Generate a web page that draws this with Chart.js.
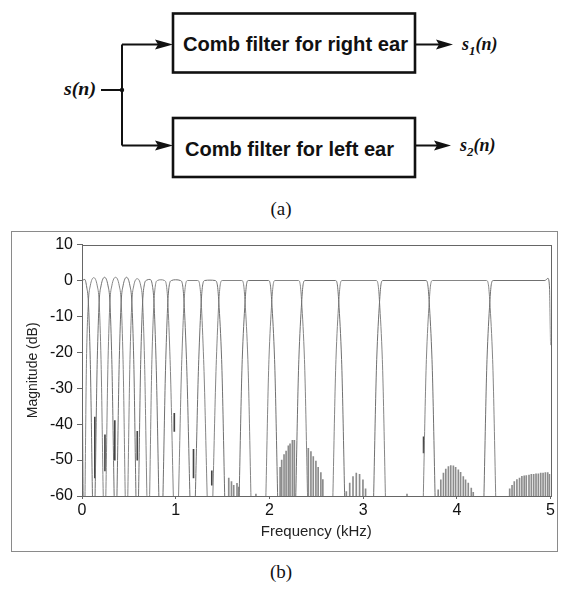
<!DOCTYPE html>
<html lang="en">
<head>
    <meta charset="UTF-8">
    <title>Comb filters</title>
    <script src="https://cdn.jsdelivr.net/npm/chart.js"></script>
    <style>
        body { margin: 0; background: #fff; width: 562px; height: 589px; position: relative; overflow: hidden; }
        #diagram { position: absolute; left: 0; top: 0; }
        #frame { position: absolute; left: 11px; top: 231px; width: 545px; height: 319px; border: 1px solid #8a8a8a; }
        #chart { position: absolute; left: 11px; top: 231px; }
        .cap { position: absolute; width: 562px; text-align: center; font-family: "Liberation Serif", serif; font-size: 19px; color: #111; }
    </style>
</head>
<body>
    <svg id="diagram" width="562" height="200" xmlns="http://www.w3.org/2000/svg">
        <g stroke="#111" fill="none">
            <rect x="173" y="13.5" width="242" height="59" stroke-width="2.6"/>
            <rect x="173" y="118" width="242" height="59" stroke-width="2.6"/>
            <line x1="101" y1="90" x2="122" y2="90" stroke-width="2"/>
            <line x1="122" y1="44.5" x2="122" y2="145.5" stroke-width="2"/>
            <line x1="122" y1="44.5" x2="158" y2="44.5" stroke-width="2"/>
            <line x1="122" y1="145.5" x2="158" y2="145.5" stroke-width="2"/>
            <line x1="415" y1="44.5" x2="440" y2="44.5" stroke-width="2"/>
            <line x1="415" y1="145.5" x2="438" y2="145.5" stroke-width="2"/>
        </g>
        <g fill="#111">
            <circle cx="122" cy="90" r="2.2"/>
            <polygon points="155,39.5 173,44.5 155,49.5 158,44.5"/>
            <polygon points="155,140.5 173,145.5 155,150.5 158,145.5"/>
            <polygon points="436,39.5 453,44.5 436,49.5 439,44.5"/>
            <polygon points="434,140.5 451,145.5 434,150.5 437,145.5"/>
        </g>
        <g font-family="Liberation Sans, Arial, sans-serif" font-weight="bold" font-size="21" fill="#111">
            <text x="183" y="50.5" textLength="225" lengthAdjust="spacingAndGlyphs">Comb filter for right ear</text>
            <text x="185" y="155.5" textLength="209" lengthAdjust="spacingAndGlyphs">Comb filter for left ear</text>
        </g>
        <g font-family="Liberation Serif, serif" font-weight="bold" font-style="italic" font-size="18" fill="#111">
            <text x="64" y="95" textLength="32" lengthAdjust="spacingAndGlyphs">s(n)</text>
            <text x="462" y="50">s<tspan font-size="13" dy="5">1</tspan><tspan dy="-5">(n)</tspan></text>
            <text x="460" y="151">s<tspan font-size="13" dy="5">2</tspan><tspan dy="-5">(n)</tspan></text>
        </g>
    </svg>
    <div class="cap" style="top: 198px;">(a)</div>

    <div id="frame"></div>
    <canvas id="chart" width="546" height="320"></canvas>

    <div class="cap" style="top: 561px;">(b)</div>

    <script>
        // magnitude response of the comb filter for the right ear (kHz, dB)
        const rightFreq = [0, 0.03, 0.05, 0.068, 0.088, 0.1255, 0.163, 0.183, 0.203, 0.2405, 0.278, 0.298, 0.318, 0.358,
            0.398, 0.418, 0.438, 0.475, 0.512, 0.532, 0.552, 0.5895, 0.627, 0.647, 0.665, 0.69, 0.725, 0.75, 0.768, 0.79,
            0.842, 0.894, 0.916, 0.932, 0.955, 1.0, 1.05, 1.073, 1.089, 1.115, 1.1805, 1.246, 1.272, 1.288, 1.31, 1.366,
            1.42, 1.444, 1.46, 1.49, 1.55, 1.65, 1.71, 1.74, 1.755, 1.775, 1.99, 2.01, 2.025, 2.055, 2.115, 2.254, 2.314,
            2.344, 2.359, 2.38, 2.705, 2.725, 2.74, 2.77, 2.83, 3.085, 3.145, 3.175, 3.19, 3.21, 3.67, 3.69, 3.705, 3.735,
            3.795, 4.262, 4.322, 4.352, 4.367, 4.388, 4.94, 4.972, 4.99, 5.0];
        const rightDb = [0, 0.3, -1.8, -6, -22, -72, -22, -6, -1.5, 0.9, -1.5, -6, -22, -72,
            -22, -6, -1.5, 0.9, -1.5, -6, -22, -72, -22, -6, -1.2, 0.1, 0.3, -1.2, -6, -22,
            -76, -22, -6, -1.2, 0, 0.2, 0, -1.2, -6, -22, -78, -22, -6, -1.2, 0, 0.1,
            0, -1.2, -6, -22, -80, -80, -22, -6, -1.2, 0, 0, -1.2, -6, -22, -80, -80, -22,
            -6, -1.2, 0, 0, -1.2, -6, -22, -80, -80, -22, -6, -1.2, 0, 0, -1.2, -6, -22,
            -80, -80, -22, -6, -1.2, 0, 0, 0.6, -2.5, -18];

        // magnitude response of the comb filter for the left ear (kHz, dB)
        const leftFreq = [0, 0.022, 0.048, 0.068, 0.088, 0.1255, 0.163, 0.183, 0.203, 0.2405, 0.278, 0.298, 0.318, 0.358,
            0.398, 0.418, 0.438, 0.475, 0.512, 0.532, 0.552, 0.5895, 0.627, 0.647, 0.667, 0.7075, 0.746, 0.768, 0.784,
            0.805, 0.842, 0.88, 0.9, 0.916, 0.94, 1.0025, 1.065, 1.089, 1.105, 1.127, 1.235, 1.256, 1.272, 1.298, 1.366,
            1.434, 1.46, 1.475, 1.496, 1.705, 1.725, 1.74, 1.77, 1.83, 1.935, 1.995, 2.025, 2.04, 2.06, 2.31, 2.329, 2.344,
            2.374, 2.434, 2.65, 2.71, 2.74, 2.755, 2.775, 3.14, 3.16, 3.175, 3.205, 3.265, 3.615, 3.675, 3.705, 3.72, 3.74,
            4.317, 4.337, 4.352, 4.382, 4.442, 5.0];
        const leftDb = [-22, -74, -22, -6, -1.5, 0.8, -1.5, -6, -22, -72, -22, -6, -1.5, 0.9,
            -1.5, -6, -22, -72, -22, -6, -1.5, 0.5, -1.5, -6, -22, -72, -22, -6, -1.2,
            0, 0.2, 0, -1.2, -6, -22, -78, -22, -6, -1.2, 0, 0, -1.2, -6, -22, -78,
            -22, -6, -1.2, 0, 0, -1.2, -6, -22, -80, -80, -22, -6, -1.2, 0, 0, -1.2, -6,
            -22, -80, -80, -22, -6, -1.2, 0, 0, -1.2, -6, -22, -80, -80, -22, -6, -1.2, 0,
            0, -1.2, -6, -22, -80, -80];

        // stop-band side lobe ripples (peak of each ripple)
        const lobeFreq = [1.566, 1.595, 1.619, 1.654, 1.672, 1.856,
            2.114, 2.131, 2.156, 2.178, 2.202, 2.22, 2.245, 2.266,
            2.415, 2.443, 2.468, 2.496, 2.52, 2.549, 2.57,
            2.821, 2.857, 2.892, 2.927, 2.962, 2.998, 3.026, 3.468,
            3.801, 3.829, 3.857, 3.882, 3.91, 3.935, 3.963, 3.987, 4.016, 4.04, 4.069, 4.093, 4.122, 4.154, 4.175,
            4.564, 4.589, 4.613, 4.641, 4.669, 4.694, 4.719, 4.741, 4.77, 4.795, 4.82, 4.845, 4.87, 4.895, 4.92, 4.945, 4.97, 4.99];
        const lobeTop = [-55, -56, -57, -56.5, -57.5, -59.5,
            -52, -50, -48.5, -47.5, -46, -45.5, -44.5, -44.5,
            -46.7, -47.6, -49, -50.3, -52, -53.5, -55.4,
            -58.8, -56.4, -54.6, -53.6, -54, -55.5, -58, -59.5,
            -58.3, -55.5, -53.6, -52.5, -51.8, -51.5, -51.6, -52, -52.7, -53.4, -54.6, -55.5, -56.4, -57.8, -59,
            -58, -57, -56, -55.4, -55, -54.5, -54.4, -54.3, -54.2, -54, -54, -53.8, -53.8, -53.6, -53.6, -53.5, -53.5, -54];

        // short dark spikes in the transition bands
        const spikeFreq = [0.137, 0.245, 0.35, 0.59, 0.985, 1.19, 1.385, 3.645];
        const spikeLow = [-55, -53, -50, -50, -42, -55, -57, -48];
        const spikeHigh = [-38, -43, -39, -42, -37, -47, -53, -43.5];

        const xTicks = [0, 1, 2, 3, 4, 5];
        const yTicks = [10, 0, -10, -20, -30, -40, -50, -60];

        const toPoints = (xs, ys) => xs.map((x, i) => ({ x: x, y: ys[i] }));

        // full box around the plot area
        const plotBox = {
            id: 'plotBox',
            afterDatasetsDraw(chart) {
                const { ctx, chartArea: a } = chart;
                ctx.save();
                ctx.strokeStyle = '#666';
                ctx.lineWidth = 1;
                ctx.strokeRect(Math.round(a.left) + 0.5, Math.round(a.top) + 0.5,
                    Math.round(a.right - a.left), Math.round(a.bottom - a.top));
                ctx.restore();
            }
        };

        const lineStyle = {
            type: 'line', borderWidth: 1, pointRadius: 0, fill: false,
            cubicInterpolationMode: 'monotone'
        };

        new Chart(document.getElementById('chart'), {
            type: 'line',
            data: {
                datasets: [
                    Object.assign({ data: toPoints(rightFreq, rightDb), borderColor: '#707070' }, lineStyle),
                    Object.assign({ data: toPoints(leftFreq, leftDb), borderColor: '#858585' }, lineStyle),
                    {
                        type: 'bar', grouped: false, barThickness: 1,
                        backgroundColor: '#8c8c8c',
                        data: lobeFreq.map((f, i) => ({ x: f, y: [-60, lobeTop[i]] }))
                    },
                    {
                        type: 'bar', grouped: false, barThickness: 1,
                        backgroundColor: '#444',
                        data: spikeFreq.map((f, i) => ({ x: f, y: [spikeLow[i], spikeHigh[i]] }))
                    }
                ]
            },
            options: {
                responsive: false,
                animation: false,
                devicePixelRatio: 1,
                layout: { padding: { top: 13, right: 3, left: 0, bottom: 0 } },
                plugins: { legend: { display: false }, tooltip: { enabled: false } },
                scales: {
                    x: {
                        type: 'linear', min: 0, max: 5, offset: false,
                        afterBuildTicks: s => { s.ticks = xTicks.map(v => ({ value: v })); },
                        afterFit: s => { s.height = 55; },
                        grid: { offset: false, drawOnChartArea: false, drawTicks: true, tickLength: 3, color: '#666' },
                        border: { display: true, color: '#666' },
                        ticks: { padding: 2, color: '#111', maxRotation: 0, font: { family: 'Liberation Sans', size: 16 } },
                        title: {
                            display: true, text: 'Frequency (kHz)', color: '#222',
                            font: { family: 'Liberation Sans', size: 15 }, padding: { top: 0, bottom: 10 }
                        }
                    },
                    y: {
                        type: 'linear', min: -60, max: 10,
                        afterBuildTicks: s => { s.ticks = yTicks.map(v => ({ value: v })); },
                        afterFit: s => { s.width = 71; },
                        grid: { drawOnChartArea: false, drawTicks: true, tickLength: 5, color: '#666' },
                        border: { display: true, color: '#666' },
                        ticks: { padding: 4, color: '#111', font: { family: 'Liberation Sans', size: 16 } },
                        title: {
                            display: true, text: 'Magnitude (dB)', color: '#222',
                            font: { family: 'Liberation Sans', size: 14 }, padding: { top: 14, bottom: 0 }
                        }
                    }
                }
            },
            plugins: [plotBox]
        });
    </script>
</body>
</html>
